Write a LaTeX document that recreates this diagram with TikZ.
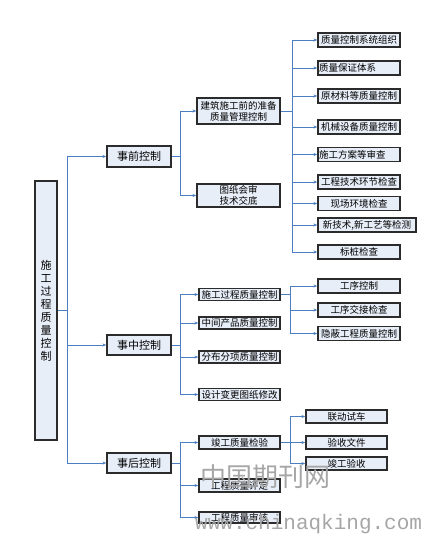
\documentclass[tikz,border=0pt]{standalone}
\usepackage{fontspec}
\newfontfamily\cjk{Noto Sans CJK SC}
\newfontfamily\wmono{Liberation Mono}
\usetikzlibrary{arrows.meta}
\definecolor{boxfill}{HTML}{E8EEF8}
\definecolor{boxline}{HTML}{2B2B2B}
\definecolor{linkblue}{HTML}{4A7EC0}
\begin{document}
\begin{tikzpicture}[x=1pt,y=-1pt,
  box/.style={draw=boxline,fill=boxfill,line width=1.2pt,inner sep=0pt,
    font=\cjk\fontsize{9.5}{11}\selectfont,align=center},
  midbox/.style={box,font=\cjk\fontsize{11}{13}\selectfont},
  conn/.style={draw=linkblue,line width=0.8pt},
  arr/.style={conn,-{Stealth[length=4pt,width=3pt]}},
  wm/.style={text=gray!70,inner sep=0pt,anchor=west}]
\useasboundingbox (0,0) rectangle (428,536);
% main box
\node[box,minimum width=22pt,minimum height=259pt,font=\cjk\fontsize{11}{13}\selectfont] (main) at (46,310.5)
  {施\\工\\过\\程\\质\\量\\控\\制};
% level 1
\node[midbox,minimum width=64pt,minimum height=21pt] (pre) at (139,156.5) {事前控制};
\node[midbox,minimum width=64pt,minimum height=20pt] (mid) at (139,345) {事中控制};
\node[midbox,minimum width=64pt,minimum height=20pt] (post) at (139,463) {事后控制};
% pre group
\node[box,minimum width=83pt,minimum height=26pt] (jz) at (238.5,111) {建筑施工前的准备\\质量管理控制};
\node[box,minimum width=83pt,minimum height=23pt] (tz) at (238.5,195.5) {图纸会审\\技术交底};
\node[box,minimum width=82pt,minimum height=14pt] (r1) at (359,40) {质量控制系统组织};
\node[box,minimum width=82pt,minimum height=14pt,text width=80pt,align=left] (r2) at (359,68) {质量保证体系};
\node[box,minimum width=82pt,minimum height=14pt] (r3) at (359,96) {原材料等质量控制};
\node[box,minimum width=82pt,minimum height=14pt] (r4) at (359,127) {机械设备质量控制};
\node[box,minimum width=82pt,minimum height=14pt,text width=80pt,align=left] (r5) at (359,154.5) {施工方案等审查};
\node[box,minimum width=82pt,minimum height=14pt] (r6) at (359,182) {工程技术环节检查};
\node[box,minimum width=82pt,minimum height=14pt] (r7) at (359,203.5) {现场环境检查};
\node[box,minimum width=98pt,minimum height=14pt] (r8) at (367,225) {新技术,新工艺等检测};
\node[box,minimum width=82pt,minimum height=14pt] (r9) at (359,252) {标桩检查};
% mid group
\node[box,minimum width=81pt,minimum height=12pt] (m1) at (239.5,294.5) {施工过程质量控制};
\node[box,minimum width=81pt,minimum height=12pt] (m2) at (239.5,323) {中间产品质量控制};
\node[box,minimum width=81pt,minimum height=12pt] (m3) at (239.5,357) {分布分项质量控制};
\node[box,minimum width=81pt,minimum height=12pt] (m4) at (239.5,394.5) {设计变更图纸修改};
\node[box,minimum width=82pt,minimum height=14pt] (s1) at (359,286) {工序控制};
\node[box,minimum width=82pt,minimum height=14pt] (s2) at (359,310) {工序交接检查};
\node[box,minimum width=82pt,minimum height=14pt] (s3) at (359,333.5) {隐蔽工程质量控制};
% post group
\node[box,minimum width=81pt,minimum height=13pt] (p1) at (239.5,442.5) {竣工质量检验};
\node[box,minimum width=81pt,minimum height=13pt] (p2) at (239.5,485.5) {工程质量评定};
\node[box,minimum width=81pt,minimum height=11pt] (p3) at (239.5,517.5) {工程质量审核};
\node[box,minimum width=81pt,minimum height=13pt] (q1) at (346.5,416.5) {联动试车};
\node[box,minimum width=81pt,minimum height=13pt] (q2) at (346.5,442.5) {验收文件};
\node[box,minimum width=81pt,minimum height=13pt] (q3) at (346.5,463.5) {竣工验收};
% connectors
\draw[conn] (main.east) -- ++(10,0) coordinate (t0);
\foreach \n in {pre,mid,post} \draw[arr] (t0) |- (\n.west);
\draw[conn] (pre.east) -- ++(9,0) coordinate (t1);
\foreach \n in {jz,tz} \draw[arr] (t1) |- (\n.west);
\draw[conn] (jz.east) -- ++(12,0) coordinate (t2);
\foreach \n in {r1,r2,r3,r4,r5,r6,r7,r8,r9} \draw[arr] (t2) |- (\n.west);
\draw[conn] (mid.east) -- ++(9,0) coordinate (t3);
\foreach \n in {m1,m2,m3,m4} \draw[arr] (t3) |- (\n.west);
\draw[conn] (m1.east) -- ++(10,0) coordinate (t4);
\foreach \n in {s1,s2,s3} \draw[arr] (t4) |- (\n.west);
\draw[conn] (post.east) -- ++(9,0) coordinate (t5);
\foreach \n in {p1,p2,p3} \draw[arr] (t5) |- (\n.west);
\draw[conn] (p1.east) -- ++(10,0) coordinate (t6);
\foreach \n in {q1,q2,q3} \draw[arr] (t6) |- (\n.west);
% watermark
\node[wm,font=\cjk\fontsize{26}{28}\selectfont] (wm1) at (200,477) {中国期刊网};
\node[wm,font=\wmono\fontsize{21}{23}\selectfont] (wm2) at (195,524) {www.chinaqking.com};
\end{tikzpicture}
\end{document}
